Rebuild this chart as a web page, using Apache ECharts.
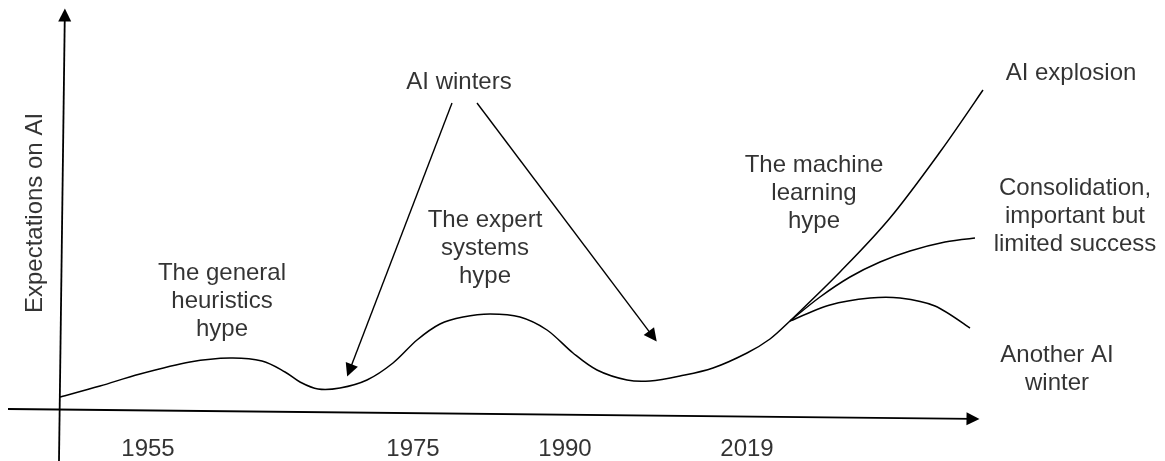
<!DOCTYPE html>
<html>
<head>
<meta charset="utf-8">
<script src="https://cdn.jsdelivr.net/npm/echarts@6/dist/echarts.min.js"></script>
<style>html,body{margin:0;padding:0;background:#fff}#c{width:1165px;height:461px}</style>
</head>
<body>
<div id="c"></div>
<script>
// Diagram coordinate space: x to the right, y downward (same scale as the canvas)
const mainCurve = [[60,397],[100,386],[140,374],[190,362],[230,358],[262,361],[285,372],[300,382],[318,389],[340,388],[367,380],[393,363],[417,340],[440,324],[463,317],[490,314],[520,317],[547,330],[573,353],[597,370],[627,380],[650,381],[680,376],[713,368],[747,353],[770,339],[790,321]];
const explosionCurve = [[790,321],[840,272],[890,218],[940,152],[983,90]];
const consolidationCurve = [[790,321],[820,297],[850,277],[880,262],[910,251],[945,242],[975,238]];
const winterCurve = [[790,321],[830,305],[870,298],[900,298],[935,306],[970,328]];

const axisArrows = [
  [[59,461],[64.8,15]],
  [[8,409],[973,418.9]]
];
const winterArrows = [
  [[452,103],[349.5,370.5]],
  [[477,103],[652.8,336.4]]
];

const tickLabels = ['1955','1975','1990','2019'];
const tickX = [148, 413, 565, 747];
const tickY = 449;

const notes = [
  ['AI winters', 459, 82],
  ['The general\nheuristics\nhype', 222, 301],
  ['The expert\nsystems\nhype', 485, 248],
  ['The machine\nlearning\nhype', 814, 193],
  ['AI explosion', 1071, 73],
  ['Consolidation,\nimportant but\nlimited success', 1075, 216],
  ['Another AI\nwinter', 1057, 369]
];
const yTitle = ['Expectations on AI', 35, 213];

const FONT = '"Liberation Sans", Arial, Helvetica, sans-serif';
const textLabel = {
  show: true, position: 'inside', formatter: p => p.name,
  color: '#000', fontSize: 24, lineHeight: 28, fontFamily: FONT,
  align: 'center', verticalAlign: 'middle'
};

// Smooth curve through the data points (Catmull-Rom), positioned by the chart's axes
function curveSeries(points) {
  return {
    type: 'custom', coordinateSystem: 'cartesian2d', silent: true, z: 3,
    data: points,
    renderItem: function (params, api) {
      if (params.dataIndex !== 0) return null;
      const p = points.map(d => api.coord(d));
      let d = 'M' + p[0][0] + ',' + p[0][1];
      for (let i = 0; i < p.length - 1; i++) {
        const p0 = p[i - 1] || p[i], p1 = p[i], p2 = p[i + 1], p3 = p[i + 2] || p[i + 1];
        const c1x = p1[0] + (p2[0] - p0[0]) / 6, c1y = p1[1] + (p2[1] - p0[1]) / 6;
        const c2x = p2[0] - (p3[0] - p1[0]) / 6, c2y = p2[1] - (p3[1] - p1[1]) / 6;
        d += ' C' + c1x + ',' + c1y + ' ' + c2x + ',' + c2y + ' ' + p2[0] + ',' + p2[1];
      }
      return {
        type: 'path',
        shape: { pathData: d },
        style: { fill: 'none', stroke: '#000', lineWidth: 1.5 }
      };
    }
  };
}
function arrowSeries(pairs, width, size) {
  return {
    type: 'lines', coordinateSystem: 'cartesian2d',
    data: pairs.map(p => ({ coords: p })),
    symbol: ['none', 'triangle'], symbolSize: size,
    lineStyle: { color: '#000', width: width, opacity: 1, curveness: 0 },
    itemStyle: { color: '#000' },
    silent: true, z: 4
  };
}
function textSeries(items, extra) {
  return {
    type: 'scatter', symbolSize: 1,
    itemStyle: { color: 'rgba(0,0,0,0)' },
    data: items.map(t => ({ name: t[0], value: [t[1], t[2]] })),
    label: Object.assign({}, textLabel, extra || {}),
    silent: true, z: 5
  };
}

const chart = echarts.init(document.getElementById('c'), null, { renderer: 'canvas' });
chart.setOption({
  animation: false,
  backgroundColor: '#fff',
  grid: { left: 0, right: 0, top: 0, bottom: 0 },
  xAxis: { type: 'value', min: 0, max: 1165, show: false },
  yAxis: { type: 'value', min: 0, max: 461, inverse: true, show: false },
  series: [
    curveSeries(mainCurve),
    curveSeries(explosionCurve),
    curveSeries(consolidationCurve),
    curveSeries(winterCurve),
    arrowSeries(axisArrows, 1.8, 13),
    arrowSeries(winterArrows, 1.4, 13),
    textSeries(notes),
    textSeries(tickLabels.map((t, i) => [t, tickX[i], tickY])),
    textSeries([yTitle], { rotate: 90 })
  ]
});
</script>
</body>
</html>
